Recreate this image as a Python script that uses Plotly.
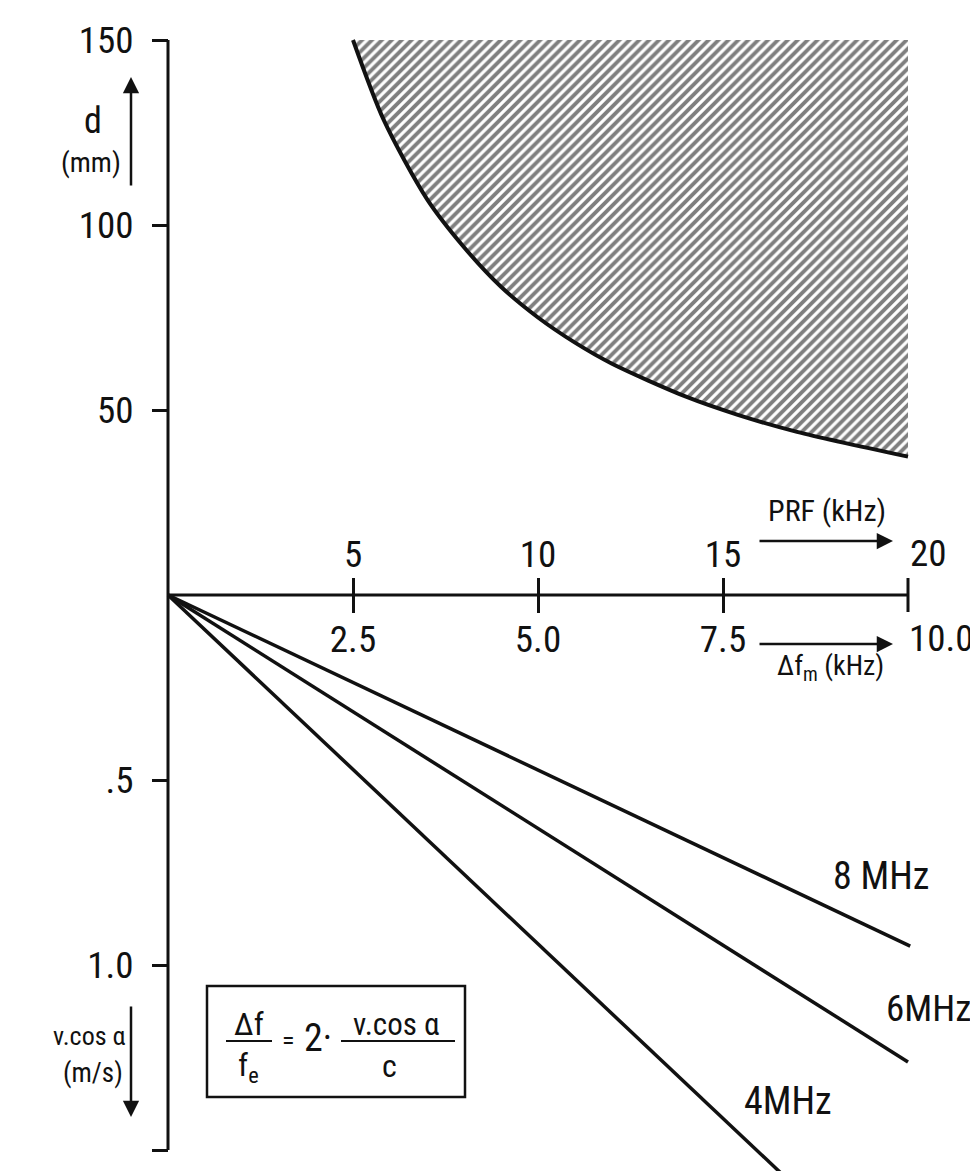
import plotly.graph_objects as go

# ---------------- data ----------------
# Upper half: maximum depth d (mm) versus PRF (kHz) - boundary of hatched region
prf_khz = [5.0, 5.83, 7.0, 8.0, 9.0, 10.0, 11.0, 12.0, 14.0, 15.4, 17.0, 20.0]
depth_mm = [150.0, 128.4, 107.0, 94.0, 83.3, 75.0, 68.2, 62.5, 53.6, 48.7, 44.1, 37.4]
depth_top = 150.0

# Lower half: v.cos(alpha) (m/s) versus Doppler shift delta-f_m (kHz)
freq_labels = ["8 MHz", "6MHz", "4MHz"]
dfm_end = [10.03, 10.0, 8.35]        # kHz at end of each line
v_end = [0.949, 1.262, 1.575]        # m/s at end of each line

# axis ticks
prf_ticks = [5, 10, 15]
prf_ticktext = ["5", "10", "15"]
dfm_ticktext = ["2.5", "5.0", "7.5"]
prf_end = 20
prf_end_label = "20"
dfm_end_label = "10.0"
d_ticks = [150, 100, 50]
v_ticks = [0.5, 1.0, 1.5]
v_ticktext = [".5", "1.0", "1.5"]

V_TO_MM = 100.0   # plotting scale: 1 m/s drawn as 100 mm below the PRF axis

# ---------------- layout geometry ----------------
W, H = 978, 1171            # page size
OFF = 8                     # page body margin
FW, FH = W - OFF, H - OFF   # figure size
X0PX, XS = 168.0, 37.0      # page pixel of PRF=0, pixels per kHz
Y0PX, YS = 595.0, 3.7       # page pixel of d=0, pixels per mm

xr = [-(X0PX - OFF) / XS, (W - X0PX) / XS]
yr = [-(H - Y0PX) / YS, (Y0PX - OFF) / YS]


def px(xp):
    return (xp - X0PX) / XS


def py(yp):
    return (Y0PX - yp) / YS


FONT = "Liberation Sans Narrow, Roboto Condensed, DejaVu Sans Condensed, Arial Narrow, Liberation Sans, sans-serif"
BLACK = "#111111"

fig = go.Figure()

# hatched region
fig.add_trace(go.Scatter(
    x=prf_khz + [prf_khz[-1], prf_khz[0]],
    y=depth_mm + [depth_top, depth_top],
    fill="toself", mode="lines", line=dict(width=0, color="rgba(0,0,0,0)"),
    fillcolor="white",
    fillpattern=dict(shape="/", fgcolor="#000000", bgcolor="white", size=7, solidity=0.55),
    hoverinfo="skip", showlegend=False,
))
# boundary curve
fig.add_trace(go.Scatter(
    x=prf_khz, y=depth_mm, mode="lines", line=dict(color=BLACK, width=4, shape="spline", smoothing=0.8),
    showlegend=False, hoverinfo="skip",
))
# frequency lines (delta f_m plotted on PRF scale: PRF = 2 * delta f_m)
for name, dfe, ve in zip(freq_labels, dfm_end, v_end):
    fig.add_trace(go.Scatter(
        x=[0, 2 * dfe], y=[0, -ve * V_TO_MM], mode="lines",
        line=dict(color=BLACK, width=3.5), name=name, showlegend=False,
    ))

tick_half = 17 / YS
shapes = [
    # vertical axis line
    dict(type="line", xref="x", yref="y", x0=0, x1=0, y0=d_ticks[0], y1=-v_ticks[-1] * V_TO_MM,
         line=dict(color=BLACK, width=3)),
    # horizontal axis line
    dict(type="line", xref="x", yref="y", x0=0, x1=prf_end, y0=0, y1=0,
         line=dict(color=BLACK, width=3)),
    # end tick at PRF 20
    dict(type="line", xref="x", yref="y", x0=prf_end, x1=prf_end, y0=-tick_half, y1=tick_half,
         line=dict(color=BLACK, width=3)),
    # formula box
    dict(type="rect", xref="x", yref="y", x0=px(207), x1=px(465), y0=py(986), y1=py(1097),
         line=dict(color=BLACK, width=2.5)),
    # fraction bars
    dict(type="line", xref="x", yref="y", x0=px(226), x1=px(272), y0=py(1041), y1=py(1041),
         line=dict(color=BLACK, width=2)),
    dict(type="line", xref="x", yref="y", x0=px(341), x1=px(455), y0=py(1041), y1=py(1041),
         line=dict(color=BLACK, width=2)),
]

ann = []


def text(t, xp, yp, size, xanchor="center"):
    ann.append(dict(text=t, x=px(xp), y=py(yp), xref="x", yref="y", showarrow=False,
                    xanchor=xanchor, yanchor="middle", font=dict(size=size, color=BLACK, family=FONT)))


def arrow(x0, y0, x1, y1):
    ann.append(dict(text="", x=px(x1), y=py(y1), ax=px(x0), ay=py(y0), xref="x", yref="y",
                    axref="x", ayref="y", showarrow=True, arrowhead=2, arrowsize=1.3,
                    arrowwidth=2.5, arrowcolor=BLACK, standoff=0, startstandoff=0))


arrow(131, 187, 131, 77)
arrow(131, 1005, 131, 1117)
arrow(758, 541, 893, 541)
arrow(758, 644, 893, 644)

text("d", 93, 121, 36)
text("(mm)", 123, 162, 28, xanchor="right")
text("v.cos α", 128, 1036, 26, xanchor="right")
text("(m/s)", 125, 1073, 27, xanchor="right")

text("PRF (kHz)", 827, 510, 30)
text(prf_end_label, 928, 553, 37)
text(dfm_end_label, 941, 638, 37)
text("Δf<sub>m</sub> (kHz)", 830, 667, 28)

text(freq_labels[0], 881, 876, 38)
text(freq_labels[1], 884, 1008, 37, xanchor="left")
text(freq_labels[2], 788, 1101, 38)

# formula
text("Δf", 249, 1024, 32)
text("f<sub>e</sub>", 248, 1067, 32)
text("=", 288, 1040, 26)
text("2·", 318, 1038, 38)
text("v.cos α", 396, 1024, 31)
text("c", 389, 1066, 32)

pos_x_axis = (H - Y0PX) / FH
pos_y_axis = (X0PX - OFF) / FW

fig.update_layout(
    width=FW, height=FH, margin=dict(l=0, r=0, t=0, b=0),
    paper_bgcolor="white", plot_bgcolor="white",
    showlegend=False, shapes=shapes, annotations=ann,
    font=dict(family=FONT, color=BLACK),
    xaxis=dict(range=xr, anchor="free", position=pos_x_axis, side="bottom",
               showgrid=False, zeroline=False, showline=False,
               tickvals=prf_ticks, ticktext=dfm_ticktext, ticks="outside", ticklen=17,
               tickwidth=3, tickcolor=BLACK, ticklabelstandoff=-5,
               tickfont=dict(size=37, family=FONT, color=BLACK)),
    xaxis2=dict(range=xr, overlaying="x", anchor="free", position=pos_x_axis, side="top",
                showgrid=False, zeroline=False, showline=False,
                tickvals=prf_ticks, ticktext=prf_ticktext, ticks="outside", ticklen=17,
                tickwidth=3, tickcolor=BLACK, ticklabelstandoff=-4,
                tickfont=dict(size=37, family=FONT, color=BLACK)),
    yaxis=dict(range=yr, anchor="free", position=pos_y_axis, side="left",
               showgrid=False, zeroline=False, showline=False,
               tickvals=d_ticks + [-v * V_TO_MM for v in v_ticks],
               ticktext=[str(t) for t in d_ticks] + v_ticktext,
               ticks="outside", ticklen=16, tickwidth=3, tickcolor=BLACK,
               ticklabelstandoff=11,
               tickfont=dict(size=37, family=FONT, color=BLACK)),
)
# dummy trace to activate the top axis
fig.add_trace(go.Scatter(x=[None], y=[None], xaxis="x2", showlegend=False, hoverinfo="skip"))

fig.write_html("out.html")
